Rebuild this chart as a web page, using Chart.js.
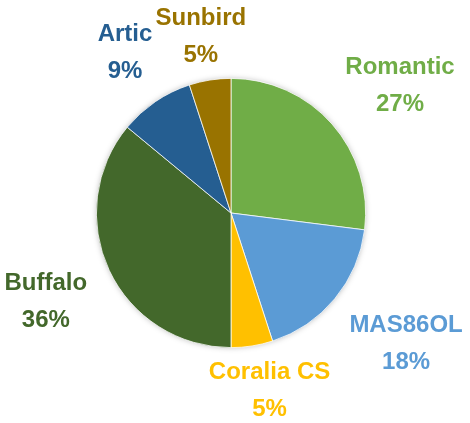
<!DOCTYPE html>
<html>
<head>
<meta charset="utf-8">
<script src="https://cdn.jsdelivr.net/npm/chart.js@4.4.1/dist/chart.umd.min.js"></script>
<style>
  html, body { margin: 0; padding: 0; background: #fff; }
</style>
</head>
<body>
<canvas id="pie" width="470" height="423"></canvas>
<script>
const labels = ['Romantic', 'MAS86OL', 'Coralia CS', 'Buffalo', 'Artic', 'Sunbird'];
const shares = [27, 18, 5, 36, 9, 5];
const colors = ['#70AD47', '#5B9BD5', '#FFC000', '#43682B', '#255E91', '#997300'];

// soft shadow under the whole pie (drawn once so slices don't shade each other)
const pieShadow = {
  id: 'pieShadow',
  beforeDatasetsDraw(chart) {
    const arc = chart.getDatasetMeta(0).data[0];
    if (!arc) return;
    const ctx = chart.ctx;
    ctx.save();
    ctx.shadowColor = 'rgba(0,0,0,0.35)';
    ctx.shadowBlur = 6;
    ctx.beginPath();
    ctx.arc(arc.x, arc.y, arc.outerRadius - 1, 0, Math.PI * 2);
    ctx.fillStyle = '#fff';
    ctx.fill();
    ctx.restore();
  }
};

// Excel-like "outside end" labels: name + percent, coloured like the slice
const outsideLabels = {
  id: 'outsideLabels',
  afterDatasetsDraw(chart) {
    const ctx = chart.ctx;
    const meta = chart.getDatasetMeta(0);
    const total = shares.reduce((a, b) => a + b, 0);
    const lineH = 37;
    const boxH = 64;
    ctx.save();
    ctx.font = 'bold 24px "Liberation Sans", Arial, sans-serif';
    ctx.textAlign = 'center';
    ctx.textBaseline = 'middle';
    meta.data.forEach((arc, i) => {
      const mid = (arc.startAngle + arc.endAngle) / 2;
      const dx = Math.cos(mid), dy = Math.sin(mid);
      const pct = Math.round(shares[i] / total * 100) + '%';
      const w = Math.max(ctx.measureText(labels[i]).width, ctx.measureText(pct).width);
      const R = arc.outerRadius + 32;
      let cx = arc.x + 3 + dx * (R + w / 2);
      let cy = arc.y + 4 + dy * (R + boxH / 2);
      cx = Math.min(Math.max(cx, w / 2), chart.width - w / 2);
      cy = Math.min(Math.max(cy, boxH / 2 + 5), chart.height - boxH / 2);
      ctx.fillStyle = colors[i];
      ctx.fillText(labels[i], cx, cy - lineH / 2);
      ctx.fillText(pct, cx, cy + lineH / 2);
    });
    ctx.restore();
  }
};

new Chart(document.getElementById('pie'), {
  type: 'pie',
  data: {
    labels: labels,
    datasets: [{
      data: shares,
      backgroundColor: colors,
      borderColor: '#ffffff',
      borderWidth: 0.75
    }]
  },
  options: {
    responsive: false,
    animation: false,
    layout: { padding: { left: 96, right: 104, top: 78, bottom: 75 } },
    plugins: {
      legend: { display: false },
      tooltip: { enabled: false }
    }
  },
  plugins: [pieShadow, outsideLabels]
});
</script>
</body>
</html>
